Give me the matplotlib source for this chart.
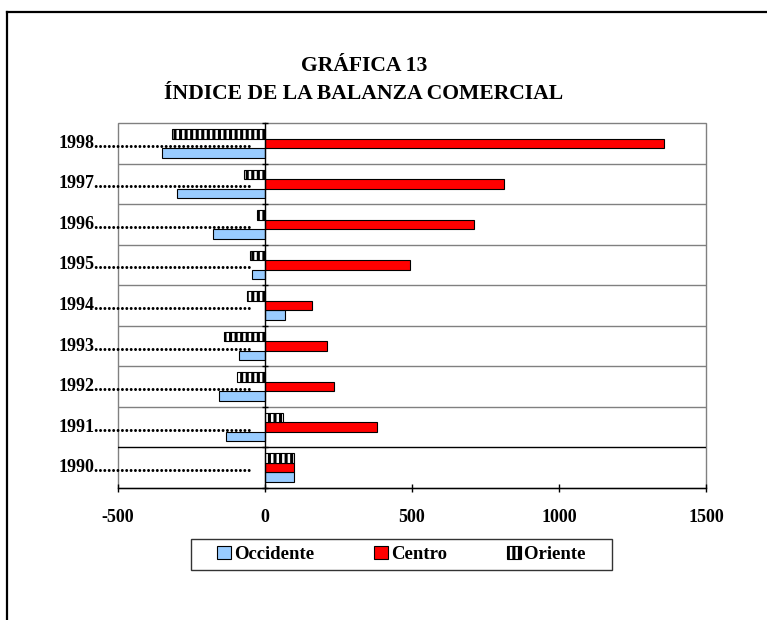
import matplotlib
matplotlib.use("Agg")
import matplotlib.pyplot as plt
import numpy as np
from matplotlib.patches import Rectangle, Patch
from matplotlib.lines import Line2D
from matplotlib.legend_handler import HandlerPatch

years = ["1990", "1991", "1992", "1993", "1994", "1995", "1996", "1997", "1998"]
occidente = [100, -134, -157, -87, 69, -45, -177, -298, -351]
centro = [100, 382, 234, 212, 161, 493, 710, 812, 1356]
oriente = [100, 62, -96, -138, -62, -52, -28, -70, -315]
series_names = ["Occidente", "Centro", "Oriente"]
x_ticks = [-500, 0, 500, 1000, 1500]
title_lines = ["GRÁFICA 13", "ÍNDICE DE LA BALANZA COMERCIAL"]

plt.rcParams["font.family"] = ["Liberation Serif", "DejaVu Serif"]
plt.rcParams["font.weight"] = "bold"
plt.rcParams["hatch.linewidth"] = 2.2
plt.rcParams["hatch.color"] = "black"

fig = plt.figure(figsize=(7.67, 6.2), dpi=100)
ax = fig.add_axes([118 / 767, 1 - 488 / 620, (706 - 118) / 767, (488 - 123) / 620])

y = np.arange(len(years))
h = 0.235
ax.barh(y - h, occidente, height=h, color="#99CCFF", edgecolor="black", linewidth=0.8, zorder=3)
ax.barh(y, centro, height=h, color="#FF0000", edgecolor="black", linewidth=0.8, zorder=3)
ax.barh(y + h, oriente, height=h, color="white", edgecolor="black", linewidth=0.8,
        hatch="|||", zorder=3)

ax.set_xlim(x_ticks[0], x_ticks[-1])
ax.set_ylim(-0.5, len(years) - 0.5)

# plot-area border
ax.add_patch(Rectangle((0, 0), 1, 1, transform=ax.transAxes, fill=False,
                       edgecolor="#808080", linewidth=1.0, zorder=1, clip_on=False))
# horizontal gridlines between categories
bounds = np.arange(len(years) - 1) + 0.5
for i, b in enumerate(bounds):
    ax.axhline(b, color="black" if i == 0 else "#808080", linewidth=1.0, zorder=1)

for s in ["top", "right"]:
    ax.spines[s].set_visible(False)
ax.spines["left"].set_position(("data", 0))
ax.spines["left"].set_color("black")
ax.spines["left"].set_linewidth(1.0)
ax.spines["left"].set_zorder(4)
ax.spines["bottom"].set_color("black")
ax.spines["bottom"].set_linewidth(1.0)

ax.set_yticks(np.arange(len(years) + 1) - 0.5)
ax.set_yticklabels([])
ax.tick_params(axis="y", direction="inout", length=5, width=1)

ax.set_xticks(x_ticks)
ax.set_xticklabels([str(v) for v in x_ticks], fontsize=13, fontweight="bold")
ax.tick_params(axis="x", direction="inout", length=6, width=1, pad=12)

# year labels with dotted leaders
trans = ax.get_yaxis_transform()
for yi, yr in zip(y, years):
    ax.text(-0.102, yi, yr + "." * 36, transform=trans, ha="left", va="center",
            fontsize=13, fontweight="bold", zorder=5, clip_on=False)

# title
fig.text(364 / 767, 1 - 66 / 620, title_lines[0], ha="center", va="center",
         fontsize=15.6, fontweight="bold")
fig.text(364 / 767, 1 - 94 / 620, title_lines[1], ha="center", va="center",
         fontsize=15.6, fontweight="bold")


class RightSquare(HandlerPatch):
    def create_artists(self, legend, orig_handle, xdescent, ydescent, width, height,
                       fontsize, trans):
        p = Rectangle((-xdescent + width - height, -ydescent), height, height)
        self.update_prop(p, orig_handle, legend)
        p.set_transform(trans)
        return [p]


# legend
handles = [
    Patch(facecolor="#99CCFF", edgecolor="black", linewidth=0.8),
    Patch(facecolor="#FF0000", edgecolor="black", linewidth=0.8),
    Patch(facecolor="white", edgecolor="black", linewidth=0.8, hatch="|||"),
]
labels = [series_names[0], series_names[1], series_names[2] + "    "]
leg = fig.legend(handles, labels, loc="center", ncol=3,
                 bbox_to_anchor=(401 / 767, 1 - 554.5 / 620),
                 prop={"size": 13.5, "weight": "bold"}, frameon=True, fancybox=False,
                 edgecolor="black", handlelength=1.8, handleheight=0.72,
                 handletextpad=0.2, columnspacing=2.1, borderpad=0.35,
                 handler_map={Patch: RightSquare()})
leg.get_frame().set_linewidth(1.0)

# outer figure frame (left and top)
fig.add_artist(Line2D([7 / 767, 7 / 767], [0, 1 - 12 / 620], transform=fig.transFigure,
                      color="black", linewidth=1.6))
fig.add_artist(Line2D([7 / 767, 1], [1 - 12 / 620, 1 - 12 / 620], transform=fig.transFigure,
                      color="black", linewidth=1.6))

fig.savefig("out.png", dpi=100, facecolor="white")
